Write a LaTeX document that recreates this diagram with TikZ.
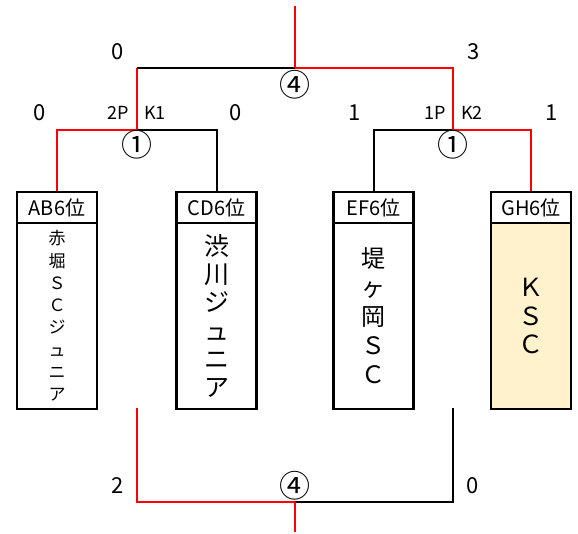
\documentclass[tikz,border=0pt]{standalone}
\usepackage{fontspec}
\setmainfont{Noto Sans CJK JP}
\definecolor{ksc}{HTML}{FFF2CC}

\begin{document}
\begin{tikzpicture}[x=1pt, y=-1pt,
    win/.style={red, line width=2pt},
    lose/.style={black, line width=2pt},
    head/.style={draw, line width=2.4pt, minimum width=80pt, minimum height=31pt, inner sep=0pt, font=\fontsize{20}{20}\selectfont},
    team/.style={draw, line width=2.4pt, minimum width=80pt, minimum height=186pt, inner sep=0pt, align=center},
    score/.style={font=\fontsize{22}{22}\selectfont, inner sep=0pt},
    pk/.style={font=\fontsize{18}{18}\selectfont, inner sep=0pt},
    game/.style={font=\fontsize{31}{31}\selectfont, inner sep=0pt}]
      \useasboundingbox (0,0) rectangle (578,534);
      % teams
      \node[head] (abhead) at (57, 207.5) {AB6位};
      \node[head] (cdhead) at (216.5, 207.5) {CD6位};
      \node[head] (efhead) at (373.5, 207.5) {EF6位};
      \node[head] (ghhead) at (531, 207.5) {GH6位};
      \node[team, font=\fontsize{17}{22.3}\selectfont] (ab) at (57, 316) {赤\\堀\\Ｓ\\Ｃ\\ジ\\ュ\\ニ\\ア};
      \node[team, font=\fontsize{25}{28.2}\selectfont] (cd) at (216.5, 316) {渋\\川\\ジ\\ュ\\ニ\\ア};
      \node[team, font=\fontsize{24}{29}\selectfont] (ef) at (373.5, 316) {堤\\ヶ\\岡\\Ｓ\\Ｃ};
      \node[team, fill=ksc, font=\fontsize{25}{28.5}\selectfont] (gh) at (531, 316) {Ｋ\\Ｓ\\Ｃ};
      % bracket points
      \coordinate (semi1) at (137, 130);
      \coordinate (semi2) at (453, 130);
      \coordinate (final) at (295, 68);
      \coordinate (champ) at (295, 6);
      \coordinate (third1) at (137, 408);
      \coordinate (third2) at (453, 408);
      \coordinate (third) at (295, 502);
      \coordinate (thirdend) at (295, 532);
      % lines
      \draw[win] (abhead.north) |- (semi1);
      \draw[lose] (semi1) -| (cdhead.north);
      \draw[lose] (efhead.north) |- (semi2);
      \draw[win] (semi2) -| (ghhead.north);
      \draw[win] (semi1) -- (semi1 |- final);
      \draw[lose] (semi1 |- final) -- (final);
      \draw[win] (final) -| (semi2);
      \draw[win] (final) -- (champ);
      \draw[win] (third1) |- (third);
      \draw[lose] (third) -| (third2);
      \draw[win] (third) -- (thirdend);
      % scores
      \node[score] (finall) at (118, 52) {0};
      \node[score] (finalr) at (474, 52) {3};
      \node[game] (finalno) at (295, 85) {④};
      \node[score] (semi1l) at (40, 113) {0};
      \node[pk] (semi1lpk) at (118, 113) {2P};
      \node[pk] (semi1rpk) at (155, 113) {K1};
      \node[score] (semi1r) at (236, 113) {0};
      \node[game] (semi1no) at (137, 145) {①};
      \node[score] (semi2l) at (355, 113) {1};
      \node[pk] (semi2lpk) at (435, 113) {1P};
      \node[pk] (semi2rpk) at (472, 113) {K2};
      \node[score] (semi2r) at (552, 113) {1};
      \node[game] (semi2no) at (453, 145) {①};
      \node[score] (thirdl) at (118, 486) {2};
      \node[game] (thirdno) at (295, 486) {④};
      \node[score] (thirdr) at (473, 486) {0};
    \end{tikzpicture}
\end{document}
